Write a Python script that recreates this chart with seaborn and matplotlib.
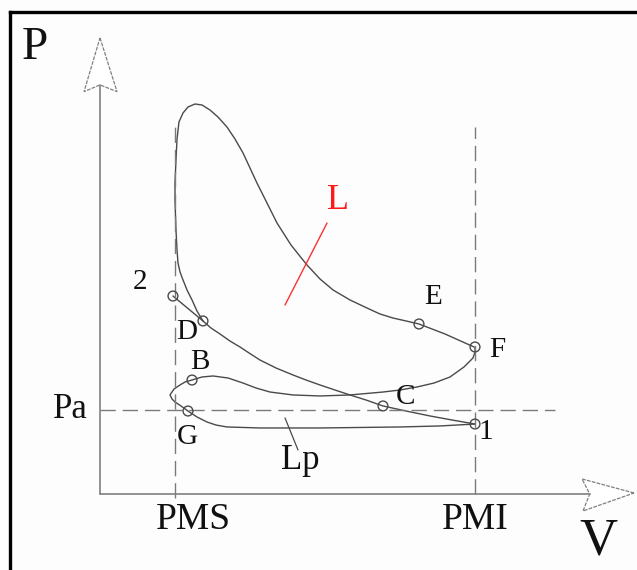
import matplotlib
matplotlib.use("Agg")
import matplotlib.pyplot as plt
import seaborn as sns
import pandas as pd
from matplotlib.patches import Polygon

sns.set_theme(style="white")
plt.rcParams["font.family"] = ["Liberation Serif", "DejaVu Serif"]

# Indicator diagram of a four-stroke engine (V in stroke units, P in units of Pa)
V_PMS, V_PMI = 1.0, 5.0
P_A = 1.0

# combustion + expansion: D -> peak -> E -> F
exp_v = [1.373, 1.293, 1.227, 1.160, 1.107, 1.067, 1.040, 1.027, 1.013, 1.000,
         1.000, 1.013, 1.027, 1.053, 1.107, 1.173, 1.267, 1.360, 1.467, 1.573,
         1.693, 1.800, 1.907, 2.000, 2.093, 2.227, 2.360, 2.547, 2.760, 2.933,
         3.107, 3.333, 3.560, 3.733, 3.907, 4.080, 4.253, 4.600, 4.987]
exp_p = [2.060, 2.179, 2.310, 2.429, 2.548, 2.643, 2.750, 2.905, 3.143, 3.500,
         3.702, 3.976, 4.226, 4.429, 4.536, 4.607, 4.643, 4.631, 4.571, 4.488,
         4.369, 4.226, 4.060, 3.881, 3.702, 3.464, 3.226, 2.964, 2.726, 2.560,
         2.429, 2.310, 2.214, 2.143, 2.095, 2.060, 2.024, 1.905, 1.750]

# compression: 1 -> C -> D
comp_v = [5.000, 4.693, 4.400, 4.080, 3.773, 3.547, 3.333, 3.133, 2.933, 2.747,
          2.573, 2.347, 2.133, 1.987, 1.867, 1.733, 1.600, 1.480, 1.373]
comp_p = [0.833, 0.881, 0.929, 0.988, 1.048, 1.119, 1.179, 1.238, 1.298, 1.357,
          1.417, 1.500, 1.595, 1.679, 1.750, 1.821, 1.905, 1.976, 2.060]

# theoretical end of compression: D -> 2
ideal_v = [1.373, 0.973]
ideal_p = [2.060, 2.357]

# exhaust and intake: F -> B -> G -> 1
gas_v = [5.000, 5.000, 4.973, 4.853, 4.667, 4.453, 4.227, 4.000, 3.773, 3.333,
         2.933, 2.573, 2.267, 2.080, 1.907, 1.707, 1.507, 1.360, 1.227, 1.133,
         1.067, 0.987, 0.933, 0.960, 1.000, 1.080, 1.173, 1.293, 1.427, 1.547,
         1.693, 2.133, 2.933, 4.000, 4.533, 5.000]
gas_p = [1.750, 1.690, 1.619, 1.512, 1.393, 1.321, 1.274, 1.238, 1.214, 1.179,
         1.167, 1.179, 1.214, 1.262, 1.321, 1.381, 1.405, 1.393, 1.357, 1.333,
         1.298, 1.250, 1.179, 1.131, 1.095, 1.048, 0.988, 0.917, 0.857, 0.821,
         0.798, 0.786, 0.786, 0.798, 0.810, 0.833]

# marked states
pt_names = ["2", "D", "B", "G", "C", "E", "F", "1"]
pt_v = [0.973, 1.373, 1.227, 1.173, 3.773, 4.253, 5.000, 5.000]
pt_p = [2.357, 2.060, 1.357, 0.988, 1.048, 2.024, 1.750, 0.833]
lbl_v = [0.533, 1.160, 1.333, 1.160, 4.067, 4.440, 5.293, 5.147]
lbl_p = [2.524, 1.929, 1.571, 0.679, 1.155, 2.345, 1.714, 0.738]

# view limits
X_MIN, X_MAX = -1.3333, 7.16
Y_MIN, Y_MAX = -0.9048, 5.881

fig = plt.figure(figsize=(6.37, 5.70), dpi=100, facecolor="#fdfdfd")
ax = fig.add_axes([0, 0, 1, 1])
ax.set_facecolor("#fdfdfd")
ax.set_xlim(X_MIN, X_MAX)
ax.set_ylim(Y_MIN, Y_MAX)
ax.axis("off")

curve_c = "#4a4a4a"
guide_c = "#7a7a7a"

def curve(v, p, **kw):
    df = pd.DataFrame({"V": v, "P": p})
    kw.setdefault("solid_joinstyle", "round")
    sns.lineplot(data=df, x="V", y="P", sort=False, estimator=None, ax=ax, **kw)

curve(exp_v, exp_p, color=curve_c, lw=1.0)
curve(comp_v, comp_p, color=curve_c, lw=1.0)
curve(ideal_v, ideal_p, color=curve_c, lw=1.0)
curve(gas_v, gas_p, color=curve_c, lw=1.0)

# dashed reference lines
dash = (0, (11, 5))
curve([V_PMS, V_PMS], [-0.05, 4.42], color=guide_c, lw=1.0, linestyle=dash)
curve([V_PMI, V_PMI], [0.0, 4.37], color=guide_c, lw=1.0, linestyle=dash)
curve([0.0, 6.07], [P_A, P_A], color=guide_c, lw=1.0, linestyle=dash)

# axes with hollow arrowheads
axis_c = "#808080"
curve([0, 0], [0, 4.87], color=axis_c, lw=1.2)
curve([0, 6.53], [0, 0], color=axis_c, lw=1.2)
ax.add_patch(Polygon([(0, 5.43), (0.227, 4.79), (0, 4.87), (-0.213, 4.79)],
                     closed=True, facecolor="white", edgecolor=axis_c, lw=0.9,
                     linestyle=(0, (3, 1))))
ax.add_patch(Polygon([(7.12, 0.012), (6.427, 0.179), (6.53, 0.0), (6.44, -0.202)],
                     closed=True, facecolor="white", edgecolor=axis_c, lw=0.9,
                     linestyle=(0, (3, 1))))

# state points
pts = pd.DataFrame({"V": pt_v, "P": pt_p})
sns.scatterplot(data=pts, x="V", y="P", ax=ax, marker="o", s=50,
                facecolors="none", edgecolors=curve_c, linewidths=1.0, zorder=5)

for name, x, y in zip(pt_names, lbl_v, lbl_p):
    ax.text(x, y, name, fontsize=21, ha="center", va="center", color="#111111")

# work areas
curve([3.027, 2.467], [3.226, 2.250], color="#ff3030", lw=1.0)
ax.text(3.173, 3.50, "L", fontsize=26, color="#ff1a1a", ha="center", va="center")
curve([2.467, 2.640], [0.905, 0.524], color=curve_c, lw=0.9)
ax.text(2.667, 0.40, "Lp", fontsize=25, ha="center", va="center", color="#111111")

# axis labels
ax.text(-0.40, 1.0, "Pa", fontsize=25, ha="center", va="center", color="#111111")
ax.text(V_PMS + 0.24, -0.31, "PMS", fontsize=27, ha="center", va="center", color="#111111")
ax.text(V_PMI, -0.31, "PMI", fontsize=27, ha="center", va="center", color="#111111")
ax.text(-0.867, 5.31, "P", fontsize=34, ha="center", va="center", color="#111111")
ax.text(6.64, -0.56, "V", fontsize=38, ha="center", va="center", color="#111111")

# frame (top and left edges)
ax.plot([10 / 637, 1], [1 - 12 / 570, 1 - 12 / 570], transform=ax.transAxes,
        color="black", lw=2.4, solid_capstyle="projecting", clip_on=False)
ax.plot([10 / 637, 10 / 637], [0, 1 - 12 / 570], transform=ax.transAxes,
        color="black", lw=2.4, solid_capstyle="projecting", clip_on=False)

fig.savefig("out.png", dpi=100, facecolor=fig.get_facecolor())
